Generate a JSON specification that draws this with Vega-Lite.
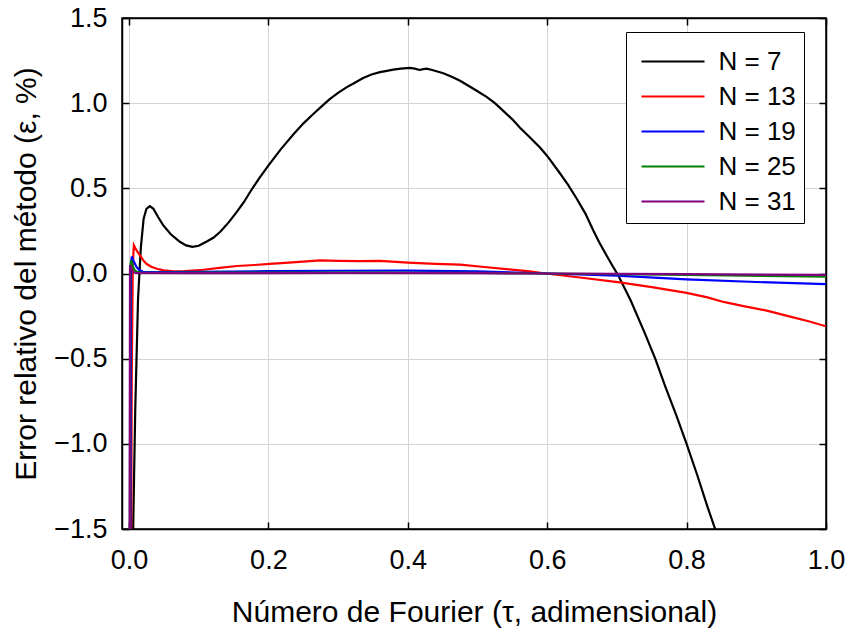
{
  "$schema": "https://vega.github.io/schema/vega-lite/v6.json",
  "width": 704,
  "height": 511,
  "autosize": "none",
  "padding": {"left": 122, "top": 18, "right": 24, "bottom": 103},
  "background": "white",
  "config": {
    "font": "Liberation Sans",
    "view": {"stroke": "black", "strokeWidth": 1.5},
    "axis": {
      "domainColor": "black", "domainWidth": 1.5,
      "tickColor": "black", "tickWidth": 1.5, "tickSize": -7,
      "gridColor": "#d4d4d4", "gridWidth": 1,
      "labelColor": "black", "labelFont": "Liberation Sans", "labelFontSize": 27,
      "titleColor": "black", "titleFont": "Liberation Sans", "titleFontSize": 30, "titleFontWeight": "normal"
    }
  },
  "data": {"values": [
    {"t":0.003,"e":-3.0,"N":"N = 7"},{"t":0.006,"e":-1.5,"N":"N = 7"},{"t":0.009,"e":-0.8,"N":"N = 7"},{"t":0.013,"e":-0.15,"N":"N = 7"},{"t":0.017,"e":0.15,"N":"N = 7"},{"t":0.021,"e":0.32,"N":"N = 7"},{"t":0.025,"e":0.38,"N":"N = 7"},{"t":0.030,"e":0.396,"N":"N = 7"},{"t":0.035,"e":0.38,"N":"N = 7"},{"t":0.042,"e":0.33,"N":"N = 7"},{"t":0.049,"e":0.284,"N":"N = 7"},{"t":0.060,"e":0.23,"N":"N = 7"},{"t":0.073,"e":0.186,"N":"N = 7"},{"t":0.082,"e":0.165,"N":"N = 7"},{"t":0.091,"e":0.156,"N":"N = 7"},{"t":0.100,"e":0.163,"N":"N = 7"},{"t":0.111,"e":0.186,"N":"N = 7"},{"t":0.121,"e":0.21,"N":"N = 7"},{"t":0.131,"e":0.245,"N":"N = 7"},{"t":0.143,"e":0.30,"N":"N = 7"},{"t":0.155,"e":0.363,"N":"N = 7"},{"t":0.165,"e":0.42,"N":"N = 7"},{"t":0.174,"e":0.48,"N":"N = 7"},{"t":0.187,"e":0.56,"N":"N = 7"},{"t":0.201,"e":0.639,"N":"N = 7"},{"t":0.218,"e":0.73,"N":"N = 7"},{"t":0.236,"e":0.817,"N":"N = 7"},{"t":0.250,"e":0.88,"N":"N = 7"},{"t":0.264,"e":0.935,"N":"N = 7"},{"t":0.276,"e":0.98,"N":"N = 7"},{"t":0.288,"e":1.024,"N":"N = 7"},{"t":0.300,"e":1.06,"N":"N = 7"},{"t":0.312,"e":1.093,"N":"N = 7"},{"t":0.324,"e":1.12,"N":"N = 7"},{"t":0.336,"e":1.148,"N":"N = 7"},{"t":0.348,"e":1.168,"N":"N = 7"},{"t":0.360,"e":1.182,"N":"N = 7"},{"t":0.370,"e":1.19,"N":"N = 7"},{"t":0.379,"e":1.197,"N":"N = 7"},{"t":0.390,"e":1.203,"N":"N = 7"},{"t":0.403,"e":1.207,"N":"N = 7"},{"t":0.410,"e":1.203,"N":"N = 7"},{"t":0.417,"e":1.195,"N":"N = 7"},{"t":0.422,"e":1.200,"N":"N = 7"},{"t":0.427,"e":1.203,"N":"N = 7"},{"t":0.435,"e":1.195,"N":"N = 7"},{"t":0.451,"e":1.176,"N":"N = 7"},{"t":0.463,"e":1.155,"N":"N = 7"},{"t":0.475,"e":1.132,"N":"N = 7"},{"t":0.490,"e":1.095,"N":"N = 7"},{"t":0.500,"e":1.07,"N":"N = 7"},{"t":0.513,"e":1.037,"N":"N = 7"},{"t":0.525,"e":1.0,"N":"N = 7"},{"t":0.537,"e":0.955,"N":"N = 7"},{"t":0.550,"e":0.905,"N":"N = 7"},{"t":0.561,"e":0.856,"N":"N = 7"},{"t":0.575,"e":0.80,"N":"N = 7"},{"t":0.590,"e":0.738,"N":"N = 7"},{"t":0.600,"e":0.69,"N":"N = 7"},{"t":0.618,"e":0.59,"N":"N = 7"},{"t":0.630,"e":0.52,"N":"N = 7"},{"t":0.642,"e":0.442,"N":"N = 7"},{"t":0.655,"e":0.35,"N":"N = 7"},{"t":0.666,"e":0.254,"N":"N = 7"},{"t":0.675,"e":0.18,"N":"N = 7"},{"t":0.685,"e":0.107,"N":"N = 7"},{"t":0.693,"e":0.05,"N":"N = 7"},{"t":0.702,"e":-0.012,"N":"N = 7"},{"t":0.720,"e":-0.16,"N":"N = 7"},{"t":0.740,"e":-0.35,"N":"N = 7"},{"t":0.755,"e":-0.50,"N":"N = 7"},{"t":0.770,"e":-0.67,"N":"N = 7"},{"t":0.785,"e":-0.83,"N":"N = 7"},{"t":0.800,"e":-1.0,"N":"N = 7"},{"t":0.815,"e":-1.18,"N":"N = 7"},{"t":0.830,"e":-1.37,"N":"N = 7"},{"t":0.841,"e":-1.5,"N":"N = 7"},{"t":0.860,"e":-1.73,"N":"N = 7"},

    {"t":0.001,"e":-4.0,"N":"N = 13"},{"t":0.004,"e":-0.6,"N":"N = 13"},{"t":0.0055,"e":0.05,"N":"N = 13"},{"t":0.007,"e":0.166,"N":"N = 13"},{"t":0.009,"e":0.15,"N":"N = 13"},{"t":0.012,"e":0.128,"N":"N = 13"},{"t":0.016,"e":0.106,"N":"N = 13"},{"t":0.020,"e":0.08,"N":"N = 13"},{"t":0.025,"e":0.057,"N":"N = 13"},{"t":0.032,"e":0.04,"N":"N = 13"},{"t":0.040,"e":0.028,"N":"N = 13"},{"t":0.050,"e":0.018,"N":"N = 13"},{"t":0.064,"e":0.012,"N":"N = 13"},{"t":0.080,"e":0.014,"N":"N = 13"},{"t":0.107,"e":0.022,"N":"N = 13"},{"t":0.130,"e":0.033,"N":"N = 13"},{"t":0.155,"e":0.044,"N":"N = 13"},{"t":0.180,"e":0.05,"N":"N = 13"},{"t":0.202,"e":0.057,"N":"N = 13"},{"t":0.240,"e":0.067,"N":"N = 13"},{"t":0.274,"e":0.077,"N":"N = 13"},{"t":0.300,"e":0.074,"N":"N = 13"},{"t":0.330,"e":0.073,"N":"N = 13"},{"t":0.360,"e":0.074,"N":"N = 13"},{"t":0.400,"e":0.064,"N":"N = 13"},{"t":0.440,"e":0.057,"N":"N = 13"},{"t":0.475,"e":0.052,"N":"N = 13"},{"t":0.510,"e":0.038,"N":"N = 13"},{"t":0.545,"e":0.024,"N":"N = 13"},{"t":0.575,"e":0.012,"N":"N = 13"},{"t":0.598,"e":0.0,"N":"N = 13"},{"t":0.650,"e":-0.025,"N":"N = 13"},{"t":0.704,"e":-0.052,"N":"N = 13"},{"t":0.750,"e":-0.08,"N":"N = 13"},{"t":0.800,"e":-0.114,"N":"N = 13"},{"t":0.830,"e":-0.14,"N":"N = 13"},{"t":0.853,"e":-0.167,"N":"N = 13"},{"t":0.880,"e":-0.19,"N":"N = 13"},{"t":0.915,"e":-0.218,"N":"N = 13"},{"t":0.950,"e":-0.255,"N":"N = 13"},{"t":0.975,"e":-0.28,"N":"N = 13"},{"t":1.000,"e":-0.31,"N":"N = 13"},

    {"t":0.0005,"e":-4.0,"N":"N = 19"},{"t":0.003,"e":0.05,"N":"N = 19"},{"t":0.004,"e":0.10,"N":"N = 19"},{"t":0.007,"e":0.07,"N":"N = 19"},{"t":0.011,"e":0.037,"N":"N = 19"},{"t":0.015,"e":0.02,"N":"N = 19"},{"t":0.020,"e":0.01,"N":"N = 19"},{"t":0.040,"e":0.008,"N":"N = 19"},{"t":0.100,"e":0.01,"N":"N = 19"},{"t":0.200,"e":0.014,"N":"N = 19"},{"t":0.300,"e":0.016,"N":"N = 19"},{"t":0.400,"e":0.017,"N":"N = 19"},{"t":0.500,"e":0.012,"N":"N = 19"},{"t":0.600,"e":0.0,"N":"N = 19"},{"t":0.700,"e":-0.012,"N":"N = 19"},{"t":0.800,"e":-0.035,"N":"N = 19"},{"t":0.900,"e":-0.05,"N":"N = 19"},{"t":1.000,"e":-0.062,"N":"N = 19"},

    {"t":0.0003,"e":-4.0,"N":"N = 25"},{"t":0.002,"e":0.04,"N":"N = 25"},{"t":0.003,"e":0.077,"N":"N = 25"},{"t":0.005,"e":0.05,"N":"N = 25"},{"t":0.008,"e":0.02,"N":"N = 25"},{"t":0.012,"e":0.008,"N":"N = 25"},{"t":0.020,"e":0.004,"N":"N = 25"},{"t":0.100,"e":0.005,"N":"N = 25"},{"t":0.300,"e":0.006,"N":"N = 25"},{"t":0.500,"e":0.004,"N":"N = 25"},{"t":0.600,"e":0.0,"N":"N = 25"},{"t":0.800,"e":-0.008,"N":"N = 25"},{"t":1.000,"e":-0.018,"N":"N = 25"},

    {"t":0.0,"e":-4.0,"N":"N = 31"},{"t":0.0015,"e":0.03,"N":"N = 31"},{"t":0.002,"e":0.05,"N":"N = 31"},{"t":0.003,"e":0.03,"N":"N = 31"},{"t":0.005,"e":0.01,"N":"N = 31"},{"t":0.010,"e":0.003,"N":"N = 31"},{"t":0.100,"e":0.002,"N":"N = 31"},{"t":0.300,"e":0.003,"N":"N = 31"},{"t":0.500,"e":0.002,"N":"N = 31"},{"t":0.600,"e":0.0,"N":"N = 31"},{"t":0.800,"e":-0.004,"N":"N = 31"},{"t":1.000,"e":-0.008,"N":"N = 31"}
  ]},
  "resolve": {"axis": {"x": "independent", "y": "independent"}},
  "layer": [
    {
      "mark": {"type": "line", "strokeWidth": 2.2, "clip": true},
      "encoding": {
        "x": {"field": "t", "type": "quantitative",
              "scale": {"domain": [-0.01, 1.0], "nice": false, "zero": false},
              "axis": {"values": [0, 0.2, 0.4, 0.6, 0.8, 1.0], "format": ".1f", "labelPadding": 25, "titlePadding": 24,
                       "title": "Número de Fourier (τ, adimensional)", "labelFlush": false}},
        "y": {"field": "e", "type": "quantitative",
              "scale": {"domain": [-1.5, 1.5], "nice": false, "zero": false},
              "axis": {"values": [-1.5, -1.0, -0.5, 0, 0.5, 1.0, 1.5], "format": ".1f", "labelPadding": 22, "titlePadding": 12,
                       "title": "Error relativo del método (ε, %)", "labelFlush": false}},
        "color": {"field": "N", "type": "nominal",
                  "scale": {"domain": ["N = 7", "N = 13", "N = 19", "N = 25", "N = 31"],
                            "range": ["#000000", "#ff0000", "#0000ff", "#008000", "#800080"]},
                  "legend": {"title": null, "orient": "none", "legendX": 504, "legendY": 14,
                             "strokeColor": "black", "fillColor": "white",
                             "padding": 8, "symbolType": "M-1.575,0H1.575", "symbolSize": 1600, "symbolStrokeWidth": 2.2,
                             "symbolOffset": 17.5,
                             "labelFontSize": 26, "labelFont": "Liberation Sans", "labelColor": "black",
                             "rowPadding": 0, "labelOffset": 24}}
      }
    },
    {
      "mark": {"type": "line", "opacity": 0},
      "encoding": {
        "x": {"field": "t", "type": "quantitative",
              "axis": {"orient": "top", "values": [0, 0.2, 0.4, 0.6, 0.8, 1.0], "labels": false, "grid": false, "title": null}},
        "y": {"field": "e", "type": "quantitative",
              "axis": {"orient": "right", "values": [-1.5, -1.0, -0.5, 0, 0.5, 1.0, 1.5], "labels": false, "grid": false, "title": null}}
      }
    }
  ]
}
